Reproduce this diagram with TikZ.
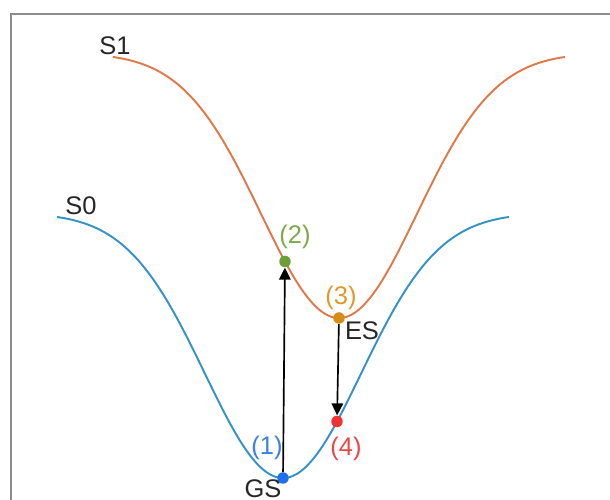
\documentclass[tikz,border=0pt]{standalone}
\usepackage{fontspec}
\setmainfont{Liberation Sans}
\usetikzlibrary{arrows.meta}

\definecolor{sone}{HTML}{E07848}
\definecolor{szero}{HTML}{3592C8}
\definecolor{ptone}{HTML}{1F6FF0}
\definecolor{pttwo}{HTML}{6E9E3A}
\definecolor{ptthree}{HTML}{D98C14}
\definecolor{ptfour}{HTML}{EE3333}
\definecolor{lbone}{HTML}{3A7FEA}
\definecolor{lbtwo}{HTML}{7BAA4A}
\definecolor{lbthree}{HTML}{E09A2A}
\definecolor{lbfour}{HTML}{E84848}

\begin{document}
\begin{tikzpicture}[x=0.02cm, y=0.02cm, font=\fontsize{14.5}{16}\selectfont,
  frame/.style={draw=black!45, line width=1.1pt},
  curve/.style={line width=1.1pt},
  dot/.style={circle, inner sep=0pt, minimum size=2.3mm},
  lbl/.style={text=black!85, inner sep=0pt},
  arr/.style={-{Triangle[length=2.4mm, width=2.3mm]}, line width=0.95pt}]

\useasboundingbox (0,0) rectangle (610,500);
\draw[frame] (11,0) |- (610,486);

% the two potential curves
\draw[curve, szero] plot[domain=-2.26:2.26, samples=90, smooth]
  ({283+100*\x},{22+265*(1-exp(-\x*\x/1.2168))});
\draw[curve, sone] plot[domain=-2.26:2.26, samples=90, smooth]
  ({339+100*\x},{182+265*(1-exp(-\x*\x/1.2168))});
\node[lbl] (lsone) at (115,454) {S1};
\node[lbl] (lszero) at (81,294) {S0};

% the four points
\node[dot, fill=ptone] (gs) at (283,22) {};
\node[dot, fill=pttwo] (fc) at (285,238.5) {};
\node[dot, fill=ptthree] (es) at (339,182) {};
\node[dot, fill=ptfour] (rel) at (337,78.5) {};

\node[lbl, text=lbone] (lone) at (267,52) {(1)};
\node[lbl, text=lbtwo] (ltwo) at (295,263) {(2)};
\node[lbl, text=lbthree] (lthree) at (341,202) {(3)};
\node[lbl, text=lbfour] (lfour) at (346,51) {(4)};
\node[lbl] (lgs) at (263,11.5) {GS};
\node[lbl] (les) at (362,169) {ES};

% absorption and emission
\draw[arr] (gs) -- (fc);
\draw[arr] (es) -- (rel);
\end{tikzpicture}
\end{document}
